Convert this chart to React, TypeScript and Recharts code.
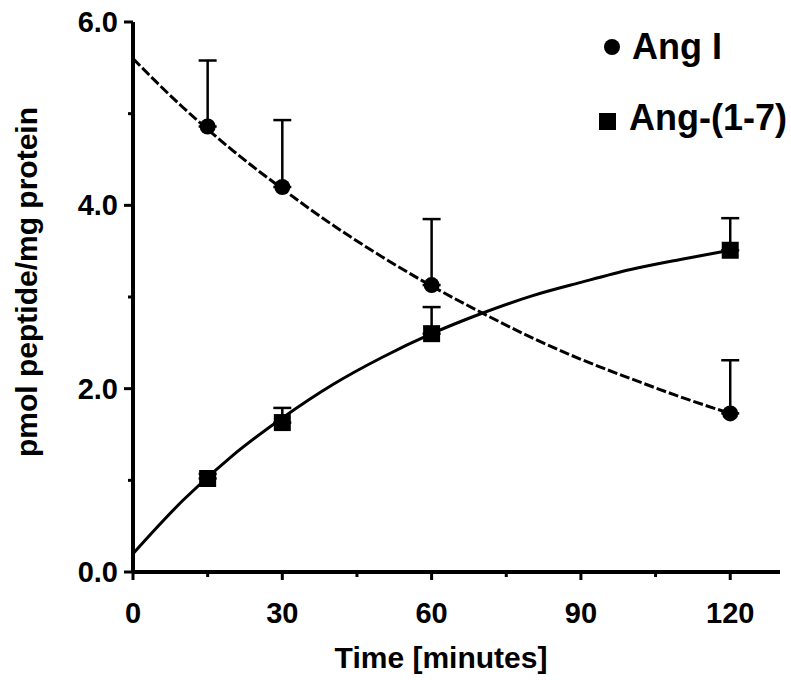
import React from 'react';
import {
  ComposedChart,
  Line,
  Scatter,
  ErrorBar,
  XAxis,
  YAxis,
  Label,
  Legend } from
'recharts';

// measured time points (minutes)
const timePoints = [15, 30, 60, 120];
const angIMean = [4.86, 4.2, 3.13, 1.73];
const angIErr = [0.72, 0.73, 0.72, 0.58];
const ang17Mean = [1.02, 1.63, 2.6, 3.51];
const ang17Err = [0.05, 0.16, 0.29, 0.35];

// fitted curves
const fitTimes = [0, 10, 20, 30, 40, 50, 60, 70, 80, 90, 100, 110, 120];
const angIFit = [5.6, 5.07, 4.6, 4.18, 3.79, 3.44, 3.12, 2.83, 2.56, 2.32, 2.11, 1.91, 1.73];
const ang17Fit = [0.2, 0.78, 1.27, 1.68, 2.04, 2.34, 2.6, 2.82, 3.01, 3.16, 3.3, 3.41, 3.51];

const xTicks = [0, 15, 30, 45, 60, 75, 90, 105, 120];
const yTicks = [0, 1, 2, 3, 4, 5, 6];
const seriesNames = ['Ang I', 'Ang-(1-7)'];

const FONT = '"Liberation Sans", Arial, Helvetica, sans-serif';

const angIPoints = timePoints.map((t, i) => ({ t, v: angIMean[i], err: [0, angIErr[i]] }));
const ang17Points = timePoints.map((t, i) => ({ t, v: ang17Mean[i], err: [0, ang17Err[i]] }));
const angIFitData = fitTimes.map((t, i) => ({ t, v: angIFit[i] }));
const ang17FitData = fitTimes.map((t, i) => ({ t, v: ang17Fit[i] }));

const XTick = ({ x, y, payload }: any) => {
  const major = payload.value % 30 === 0;
  return (
    <g>
      <line x1={x} y1={y} x2={x} y2={y + (major ? 8 : 5)} stroke="#000" strokeWidth={3} />
      {major &&
      <text x={x} y={y + 51} textAnchor="middle" fontFamily={FONT} fontWeight="bold" fontSize={29} fill="#000">
          {payload.value}
        </text>
      }
    </g>);

};

const YTick = ({ x, y, payload }: any) => {
  const major = payload.value % 2 === 0;
  return (
    <g>
      <line x1={x - (major ? 9 : 5)} y1={y} x2={x} y2={y} stroke="#000" strokeWidth={3} />
      {major &&
      <text x={x - 15} y={y + 10} textAnchor="end" fontFamily={FONT} fontWeight="bold" fontSize={29} fill="#000">
          {payload.value.toFixed(1)}
        </text>
      }
    </g>);

};

const Dot = ({ cx, cy }: any) => <circle cx={cx} cy={cy} r={8} fill="#000" />;
const Square = ({ cx, cy }: any) => <rect x={cx - 8.5} y={cy - 8.5} width={17} height={17} fill="#000" />;

const renderLegend = () =>
<svg width={200} height={150}>
    <circle cx={22} cy={47} r={8} fill="#000" />
    <text x={42} y={59} fontFamily={FONT} fontWeight="bold" fontSize={36} fill="#000">{seriesNames[0]}</text>
    <rect x={9} y={113} width={17} height={17} fill="#000" />
    <text x={39} y={130} fontFamily={FONT} fontWeight="bold" fontSize={36} fill="#000">{seriesNames[1]}</text>
  </svg>;


export default function App() {
  return (
    <div style={{ position: 'absolute', left: 0, top: 0, background: '#fff' }}>
      <ComposedChart width={791} height={680} margin={{ top: 22, right: 11, bottom: 0, left: 0 }}>
        <XAxis
          type="number"
          dataKey="t"
          domain={[0, 130]}
          ticks={xTicks}
          interval={0}
          height={108}
          tickSize={0}
          tickMargin={0}
          tickLine={false}
          tick={<XTick />}
          axisLine={{ stroke: '#000', strokeWidth: 4 }}>
          <Label
            content={() =>
            <text x={441} y={668} textAnchor="middle" fontFamily={FONT} fontWeight="bold" fontSize={30} fill="#000">
                Time [minutes]
              </text>
            } />
          
        </XAxis>
        <YAxis
          type="number"
          domain={[0, 6]}
          ticks={yTicks}
          interval={0}
          width={133}
          tickSize={0}
          tickMargin={0}
          tickLine={false}
          tick={<YTick />}
          axisLine={{ stroke: '#000', strokeWidth: 4 }}>
          <Label
            content={() =>
            <text
              x={37}
              y={282}
              transform="rotate(-90 37 282)"
              textAnchor="middle"
              fontFamily={FONT}
              fontWeight="bold"
              fontSize={30}
              fill="#000">
              
                pmol peptide/mg protein
              </text>
            } />
          
        </YAxis>
        <Legend
          layout="horizontal"
          verticalAlign="middle"
          align="center"
          content={renderLegend}
          wrapperStyle={{ top: 0, left: 590, width: 200, height: 150 }} />
        
        <Line
          data={angIFitData}
          dataKey="v"
          type="monotone"
          stroke="#000"
          strokeWidth={3}
          strokeDasharray="10 3"
          dot={false}
          activeDot={false}
          legendType="none"
          isAnimationActive={false} />
        
        <Line
          data={ang17FitData}
          dataKey="v"
          type="monotone"
          stroke="#000"
          strokeWidth={3}
          dot={false}
          activeDot={false}
          legendType="none"
          isAnimationActive={false} />
        
        <Scatter name={seriesNames[0]} data={angIPoints} dataKey="v" shape={<Dot />} isAnimationActive={false}>
          <ErrorBar dataKey="err" direction="y" width={9} stroke="#000" strokeWidth={2.5} isAnimationActive={false} />
        </Scatter>
        <Scatter name={seriesNames[1]} data={ang17Points} dataKey="v" shape={<Square />} isAnimationActive={false}>
          <ErrorBar dataKey="err" direction="y" width={9} stroke="#000" strokeWidth={2.5} isAnimationActive={false} />
        </Scatter>
      </ComposedChart>
    </div>);

}
